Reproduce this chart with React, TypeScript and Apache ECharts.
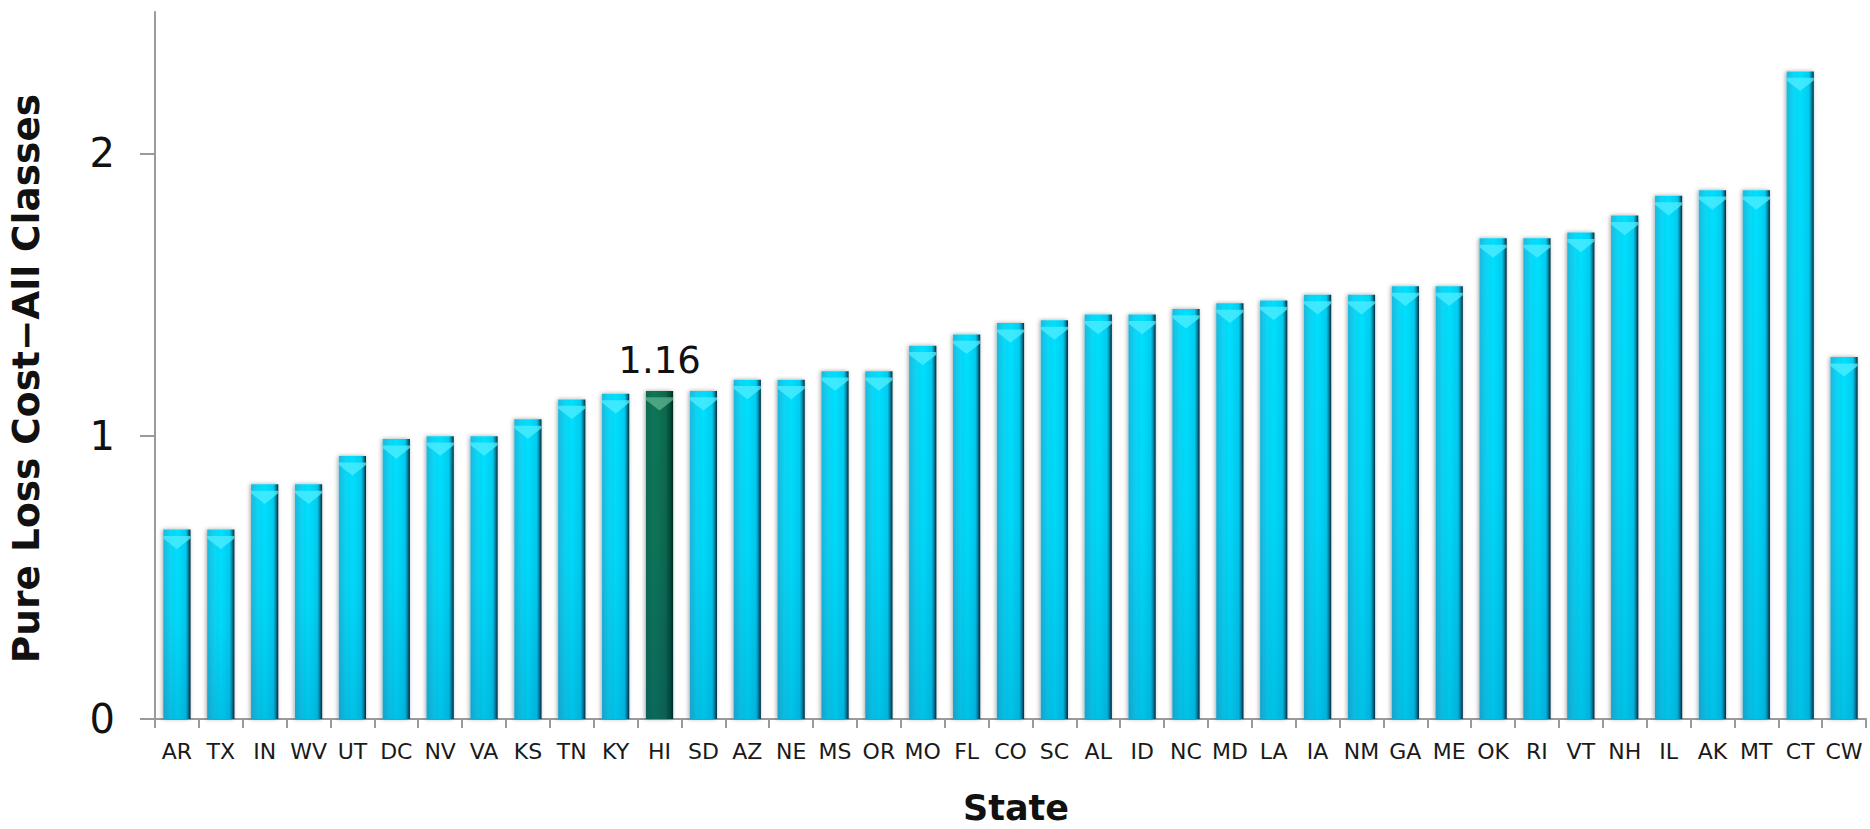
import React, { useEffect, useRef } from "react";
import * as echarts from "echarts";

const states = [
  "AR", "TX", "IN", "WV", "UT", "DC", "NV", "VA", "KS", "TN", "KY", "HI", "SD",
  "AZ", "NE", "MS", "OR", "MO", "FL", "CO", "SC", "AL", "ID", "NC", "MD", "LA",
  "IA", "NM", "GA", "ME", "OK", "RI", "VT", "NH", "IL", "AK", "MT", "CT", "CW",
];
const values = [
  0.67, 0.67, 0.83, 0.83, 0.93, 0.99, 1.0, 1.0, 1.06, 1.13, 1.15, 1.16, 1.16,
  1.2, 1.2, 1.23, 1.23, 1.32, 1.36, 1.4, 1.41, 1.43, 1.43, 1.45, 1.47, 1.48,
  1.5, 1.5, 1.53, 1.53, 1.7, 1.7, 1.72, 1.78, 1.85, 1.87, 1.87, 2.29, 1.28,
];
const highlightState = "HI";
const yTicks = [0, 1, 2];
const yMax = 2.5;

export default function App() {
  const ref = useRef<HTMLDivElement>(null);

  useEffect(() => {
    const chart = echarts.init(ref.current as HTMLDivElement, null, { renderer: "svg" });

    const cyan = new echarts.graphic.LinearGradient(0, 0, 1, 0, [
      { offset: 0, color: "#1cb8dc" },
      { offset: 0.2, color: "#0cd2f2" },
      { offset: 0.5, color: "#00e0fe" },
      { offset: 0.82, color: "#00cdf0" },
      { offset: 0.9, color: "#0490b0" },
      { offset: 1, color: "#012a34" },
    ]);
    const green = new echarts.graphic.LinearGradient(0, 0, 1, 0, [
      { offset: 0, color: "#0d6a50" },
      { offset: 0.3, color: "#0a7758" },
      { offset: 0.7, color: "#086a4e" },
      { offset: 0.88, color: "#04523c" },
      { offset: 1, color: "#01271c" },
    ]);
    const shade = new echarts.graphic.LinearGradient(0, 0, 0, 1, [
      { offset: 0, color: "rgba(0,40,110,0)" },
      { offset: 0.5, color: "rgba(0,40,110,0.04)" },
      { offset: 1, color: "rgba(0,40,110,0.16)" },
    ]);

    const mainData = values.map((v, i) =>
      states[i] === highlightState
        ? {
            value: v,
            itemStyle: { color: green },
            label: {
              show: true,
              position: "top",
              distance: 12,
              formatter: (p: any) => p.value.toFixed(2),
              fontFamily: "DejaVu Sans",
              fontSize: 37,
              color: "#111",
            },
          }
        : v
    );
    const capData = values.map((v, i) =>
      states[i] === highlightState
        ? { value: v, itemStyle: { color: "rgba(100,185,150,0.7)" } }
        : v
    );

    const option: any = {
      animation: false,
      backgroundColor: "#ffffff",
      grid: {
        left: 155,
        right: 4,
        top: 12,
        bottom: 110,
        containLabel: false,
        outerBoundsMode: "none",
      },
      xAxis: {
        type: "category",
        data: states,
        boundaryGap: true,
        name: "State",
        nameLocation: "middle",
        nameGap: 71,
        nameTextStyle: {
          fontFamily: "DejaVu Sans",
          fontWeight: "bold",
          fontSize: 35,
          lineHeight: 36,
          color: "#111",
          padding: [0, 0, 0, 11],
        },
        axisLine: { show: true, lineStyle: { color: "#9a9a9a", width: 2 } },
        axisTick: { show: true, length: 9, alignWithLabel: false, lineStyle: { color: "#9a9a9a", width: 2 } },
        axisLabel: {
          interval: 0,
          margin: 21,
          fontFamily: "DejaVu Sans",
          fontSize: 22,
          color: "#1a1a1a",
        },
        splitLine: { show: false },
      },
      yAxis: {
        type: "value",
        min: 0,
        max: yMax,
        interval: 0.5,
        name: "Pure Loss Cost\u2212All Classes",
        nameLocation: "middle",
        nameGap: 110,
        nameTextStyle: {
          fontFamily: "DejaVu Sans",
          fontWeight: "bold",
          fontSize: 37.5,
          color: "#111",
          padding: [0, 26, 0, 0],
        },
        axisLine: { show: true, lineStyle: { color: "#9a9a9a", width: 2 } },
        axisTick: {
          show: true,
          length: 15,
          customValues: yTicks,
          lineStyle: { color: "#9a9a9a", width: 2 },
        },
        axisLabel: {
          customValues: yTicks,
          margin: 40,
          fontFamily: "DejaVu Sans",
          fontSize: 40,
          color: "#111",
        },
        splitLine: { show: false },
      },
      series: [
        {
          type: "bar",
          data: mainData,
          barWidth: "62%",
          barGap: "-100%",
          itemStyle: {
            color: cyan,
            shadowColor: "rgba(0,0,0,0.35)",
            shadowBlur: 4,
            shadowOffsetX: -1,
          },
          z: 2,
        },
        {
          type: "bar",
          data: values,
          barWidth: "62%",
          barGap: "-100%",
          silent: true,
          itemStyle: { color: shade },
          z: 3,
        },
        {
          type: "pictorialBar",
          data: capData,
          symbol: "path://M0,0 L20,0 L20,2 L10,10 L0,2 Z",
          symbolSize: [27, 13],
          symbolPosition: "end",
          symbolOffset: [0, "50%"],
          silent: true,
          itemStyle: { color: "rgba(80,238,255,0.75)" },
          z: 4,
        },
      ],
    };

    chart.setOption(option);
    return () => chart.dispose();
  }, []);

  return (
    <div
      ref={ref}
      style={{ position: "fixed", left: 0, top: 0, width: 1870, height: 829, background: "#fff" }}
    />
  );
}
